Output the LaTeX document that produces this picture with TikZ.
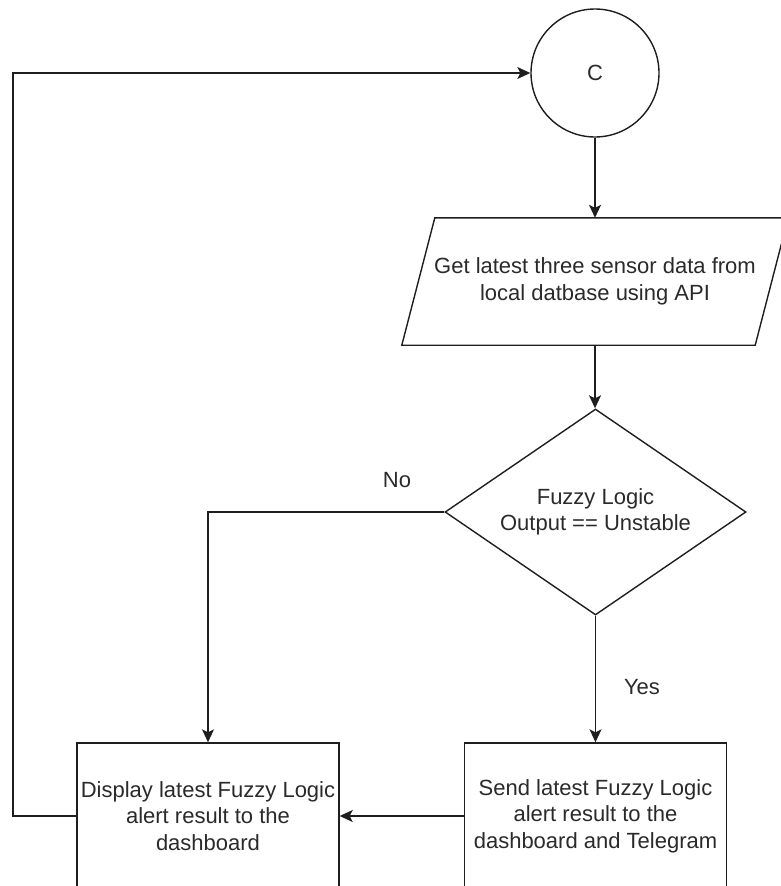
\documentclass[tikz,border=0pt]{standalone}
\usepackage{fontspec}
\setmainfont{Liberation Sans}
\usetikzlibrary{arrows.meta,shapes.geometric,calc}
\definecolor{ink}{HTML}{1E1E1E}
\definecolor{txt}{HTML}{2A2A2A}
\begin{document}
\begin{tikzpicture}[x=1pt,y=-1pt,
  every node/.style={font=\fontsize{22}{26.5}\selectfont, text=txt},
  line/.style={draw=ink, line width=1.4pt},
  arr/.style={line, -{Stealth[length=13pt,width=12pt,inset=3pt]}},
  connector/.style={circle, line, minimum size=128pt, inner sep=0pt},
  iobox/.style={minimum width=353pt, minimum height=127pt, inner sep=0pt, align=center},
  decision/.style={diamond, line, aspect=1.46, minimum width=301pt, minimum height=206pt, inner sep=0pt, align=center},
  process/.style={rectangle, line, minimum width=262pt, minimum height=146pt, inner sep=2pt, align=center},
  lbl/.style={inner sep=0pt}
]
\useasboundingbox (0,0) rectangle (780,886);

% connector circle
\node[connector] (C) at (595,73) {C};

% input/output step: parallelogram drawn round a plain text node
\node[iobox] (get) at (595,281.5) {Get latest three sensor data from\\local datbase using API};
\draw[line] ([xshift=16.5pt]get.north west) -- ([xshift=16.5pt]get.north east)
  -- ([xshift=-16.5pt]get.south east) -- ([xshift=-16.5pt]get.south west) -- cycle;

% decision
\node[decision] (dia) at (595.5,512) {Fuzzy Logic\\Output == Unstable};

% process boxes
\node[process] (disp) at (208,816) {Display latest Fuzzy Logic\\alert result to the\\dashboard};
\node[process] (send) at (595.5,816) {Send latest Fuzzy Logic\\alert result to the\\dashboard and Telegram};

% branch labels
\node[lbl] (no) at (397,480) {No};
\node[lbl] (yes) at (642,687) {Yes};

% connectors
\draw[arr] (C.south) -- (C.south |- get.north);
\draw[arr] (get.south) -- (get.south |- dia.north);
\draw[arr] (dia.west) -| (disp.north);
\draw[arr] (dia.south) -- (send.north -| dia.south);
\draw[arr] (send.west) -- (disp.east);
\coordinate (loopcorner) at (13,816);
\draw[arr] (disp.west) -- (loopcorner) |- (C.west);
\end{tikzpicture}
\end{document}
